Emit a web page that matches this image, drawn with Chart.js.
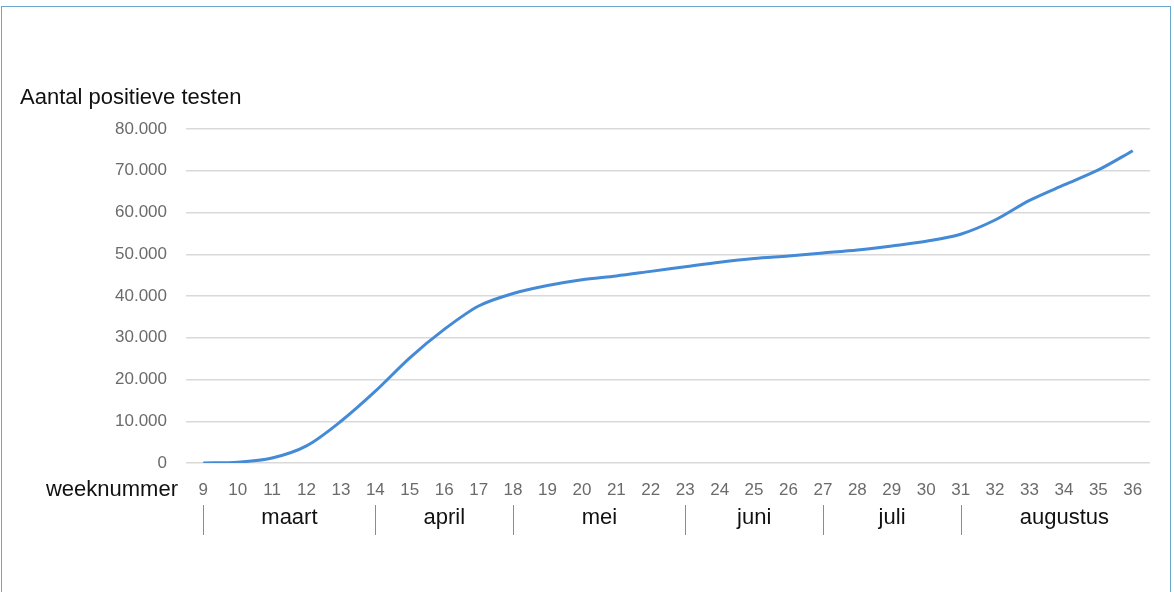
<!DOCTYPE html>
<html>
<head>
<meta charset="utf-8">
<script src="https://cdn.jsdelivr.net/npm/chart.js@4/dist/chart.umd.min.js"></script>
<style>
  html, body { margin: 0; padding: 0; background: #fff; overflow: hidden; }
  #frame { position: absolute; left: 1px; top: 6px; width: 1168px; height: 620px; border: 1px solid #6aa6cf; }
  #myChart { position: absolute; left: 0; top: 0; }
</style>
</head>
<body>
<div id="frame"></div>
<canvas id="myChart" width="1174" height="592"></canvas>
<script>
var weeks = ['9','10','11','12','13','14','15','16','17','18','19','20','21','22','23','24','25','26','27','28','29','30','31','32','33','34','35','36'];
var positives = [0, 200, 1200, 4100, 10000, 17200, 25200, 32000, 37600, 40600, 42500, 43900, 44800, 45900,
                 47000, 48100, 49000, 49600, 50300, 51000, 52000, 53100, 54800, 58200, 62900, 66600, 70200, 74800];
var months = ['maart', 'april', 'mei', 'juni', 'juli', 'augustus'];
// index in weeks where each month starts (last one ends one week past the data)
var monthStart = [0, 5, 9, 14, 18, 22];
var monthEnd = [5, 9, 14, 18, 22, 28];

function dutchNum(v) {
    return String(v).replace(/\B(?=(\d{3})+(?!\d))/g, '.');
}

var extraText = {
    id: 'extraText',
    afterDraw: function(chart) {
        var ctx = chart.ctx;
        var x = chart.scales.x;
        ctx.save();
        ctx.fillStyle = '#111';
        ctx.font = '22px "Liberation Sans", Arial, sans-serif';
        ctx.textBaseline = 'middle';
        ctx.textAlign = 'left';
        ctx.fillText('Aantal positieve testen', 20, 98);
        ctx.textAlign = 'right';
        ctx.fillText('weeknummer', 178, 490);

        ctx.strokeStyle = '#8c8c8c';
        ctx.lineWidth = 1;
        ctx.textAlign = 'center';
        for (var i = 0; i < months.length; i++) {
            var x0 = Math.round(x.getPixelForValue(monthStart[i])) + 0.5;
            ctx.beginPath();
            ctx.moveTo(x0, 505);
            ctx.lineTo(x0, 535);
            ctx.stroke();
            var x1 = x.getPixelForValue(monthEnd[i]);
            ctx.fillText(months[i], (x0 + x1) / 2, 518);
        }
        ctx.restore();
    }
};

var ctx = document.getElementById('myChart');
var lineGraph = new Chart(ctx, {
    type: 'line',
    data: {
        labels: weeks,
        datasets: [{
            label: 'Aantal positieve testen',
            data: positives,
            borderColor: 'rgb(68, 138, 214)',
            borderWidth: 3,
            pointRadius: 0,
            tension: 0.3,
            fill: false
        }]
    },
    options: {
        responsive: false,
        animation: false,
        layout: { padding: { left: 0, right: 24, top: 129, bottom: 0 } },
        plugins: {
            legend: { display: false },
            tooltip: { enabled: false }
        },
        scales: {
            x: {
                offset: true,
                grid: { display: false, drawTicks: false },
                border: { display: false },
                ticks: {
                    color: '#6b6b6b',
                    font: { family: '"Liberation Sans", Arial, sans-serif', size: 17 },
                    padding: 17,
                    maxRotation: 0,
                    autoSkip: false
                },
                afterFit: function(scale) { scale.height = 129; }
            },
            y: {
                min: 0,
                max: 80000,
                grid: { color: '#d9d9d9', lineWidth: 1.5, drawTicks: false },
                border: { display: false },
                ticks: {
                    stepSize: 10000,
                    color: '#6b6b6b',
                    font: { family: '"Liberation Sans", Arial, sans-serif', size: 17 },
                    padding: 19,
                    callback: function(v) { return dutchNum(v); }
                },
                afterFit: function(scale) { scale.width = 186; }
            }
        }
    },
    plugins: [extraText]
});
</script>
</body>
</html>
